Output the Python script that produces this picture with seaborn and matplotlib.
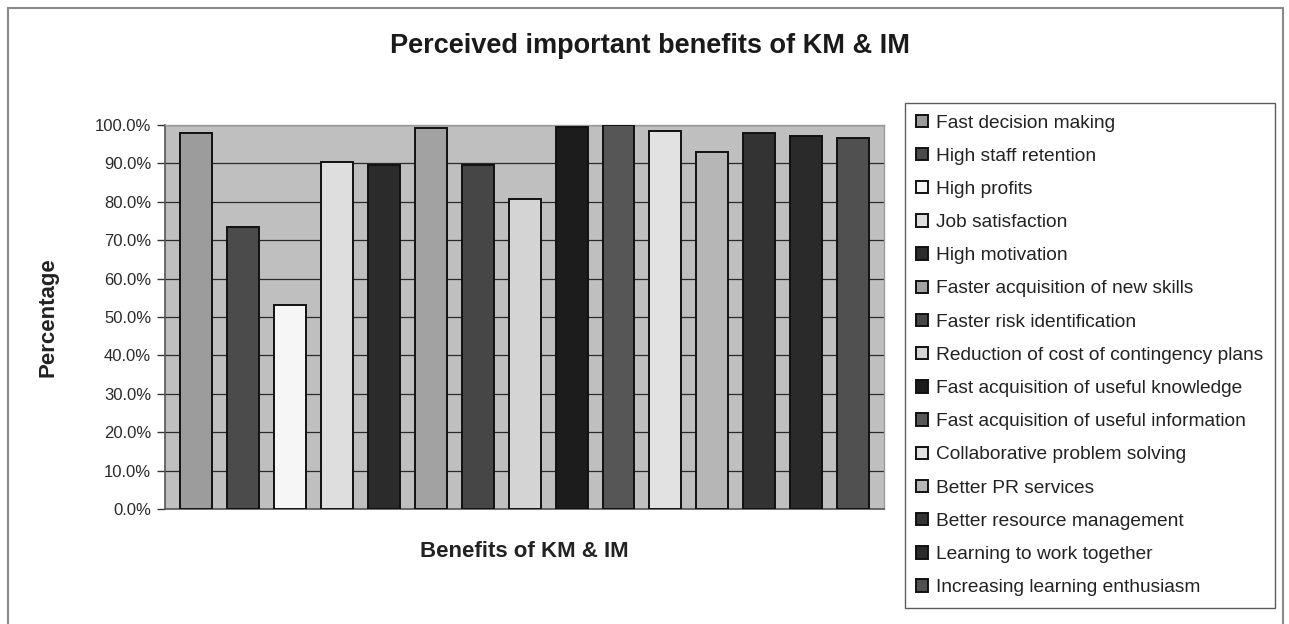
import matplotlib
matplotlib.use("Agg")
import matplotlib.pyplot as plt
from matplotlib.patches import Rectangle
from matplotlib.ticker import FuncFormatter, MultipleLocator
import pandas as pd
import seaborn as sns

# Survey results: share of respondents rating each benefit as important
benefits = [
    "Fast decision making",
    "High staff retention",
    "High profits",
    "Job satisfaction",
    "High motivation",
    "Faster acquisition of new skills",
    "Faster risk identification",
    "Reduction of cost of contingency plans",
    "Fast acquisition of useful knowledge",
    "Fast acquisition of useful information",
    "Collaborative problem solving",
    "Better PR services",
    "Better resource management",
    "Learning to work together",
    "Increasing learning enthusiasm",
]
percentages = [98.0, 73.5, 53.1, 90.3, 89.6, 99.1, 89.6, 80.6,
               99.4, 100.0, 98.5, 93.0, 98.0, 97.2, 96.5]

# Grey-scale fills, one per benefit
bar_colors = ["#9c9c9c", "#4b4b4b", "#f6f6f6", "#dedede", "#2b2b2b",
              "#a2a2a2", "#464646", "#d4d4d4", "#1c1c1c", "#565656",
              "#e2e2e2", "#b6b6b6", "#333333", "#2a2a2a", "#505050"]

df = pd.DataFrame({"benefit": benefits, "pct": percentages})

sns.set_theme(style="white")
plt.rcParams["font.family"] = ["Liberation Sans", "DejaVu Sans"]

W, H = 1289, 624
fig = plt.figure(figsize=(W / 100, H / 100), dpi=100)
fig.patch.set_facecolor("white")

# Thin outer frame around the whole chart
fig.add_artist(Rectangle((8 / W, -0.05), (1283 - 8) / W, 1 - 8 / H + 0.05,
                         transform=fig.transFigure, fill=False,
                         edgecolor="#8a8a8a", linewidth=1.5))

ax = fig.add_axes([165 / W, 1 - 509 / H, (884 - 165) / W, (509 - 125) / H])
ax.set_facecolor("#bfbfbf")

sns.barplot(data=df, x="benefit", y="pct", hue="benefit",
            palette=bar_colors, width=0.68, edgecolor="#111111",
            linewidth=1.4, legend=False, ax=ax, zorder=3)

ax.set_ylim(0, 100)
ax.set_xlim(-0.67, 14.66)
ax.yaxis.set_major_locator(MultipleLocator(10))
ax.yaxis.set_major_formatter(FuncFormatter(lambda v, _: f"{v:.1f}%"))
ax.set_xticks([])
ax.grid(axis="y", color="#2a2a2a", linewidth=0.9, zorder=0)
ax.set_axisbelow(True)

ax.tick_params(axis="y", which="major", direction="out", length=6,
               width=1, color="#333333", labelsize=12, labelcolor="#2a2a2a",
               pad=4, left=True)
for side in ["left", "bottom"]:
    ax.spines[side].set_color("#555555")
    ax.spines[side].set_linewidth(1.2)
for side in ["top", "right"]:
    ax.spines[side].set_color("#9a9a9a")
    ax.spines[side].set_linewidth(1.0)

ax.set_ylabel("Percentage", fontsize=16, fontweight="bold", color="#222222")
ax.yaxis.set_label_coords(-0.148, 0.5)
ax.set_xlabel("Benefits of KM & IM", fontsize=16, fontweight="bold",
              color="#222222")
ax.xaxis.set_label_coords(0.5, -0.083)

fig.text(650 / W, 1 - 46 / H, "Perceived important benefits of KM & IM",
         ha="center", va="center", fontsize=19.5, fontweight="bold",
         color="#1a1a1a")

# Legend built from the bars themselves
handles = [p for p in ax.patches][:len(benefits)]
leg = fig.legend(handles, benefits, loc="upper left",
                 bbox_to_anchor=(905 / W, 1 - 103 / H),
                 frameon=True, fancybox=False, shadow=False,
                 fontsize=13.8, handlelength=0.62, handleheight=0.62,
                 handletextpad=0.4, labelspacing=0.845, borderpad=0.6,
                 borderaxespad=0.0)
leg.get_frame().set_edgecolor("#333333")
leg.get_frame().set_linewidth(1.0)
for t in leg.get_texts():
    t.set_color("#222222")

fig.savefig("out.png", dpi=100)
